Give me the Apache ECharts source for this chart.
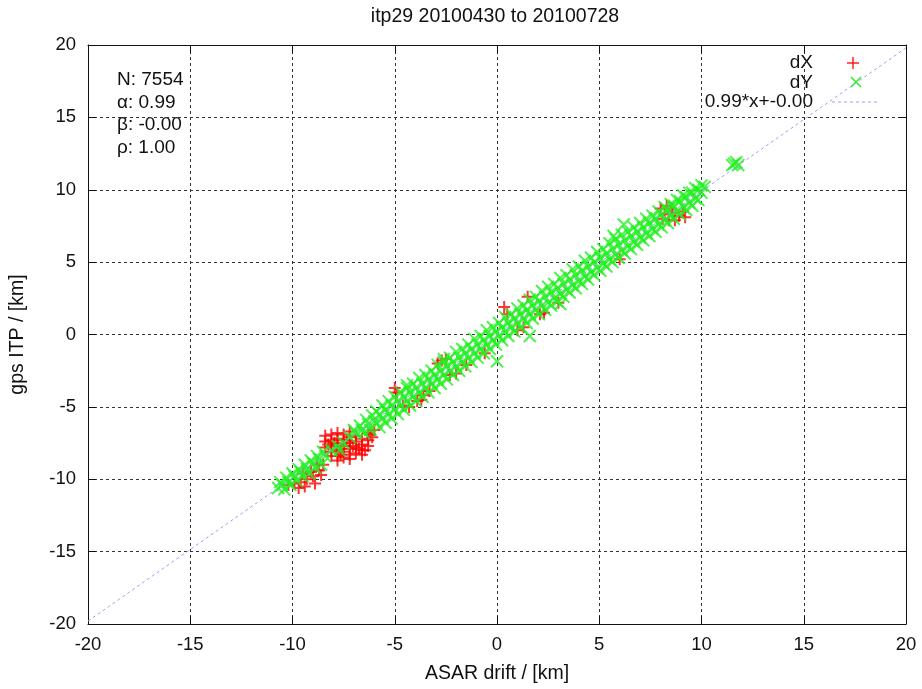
<!DOCTYPE html>
<html>
<head>
<meta charset="utf-8">
<script src="https://cdn.jsdelivr.net/npm/echarts@6/dist/echarts.min.js"></script>
<style>
  html, body { margin: 0; padding: 0; background: #fff; }
  #scatterChart { width: 922px; height: 689px; }
</style>
</head>
<body>
<div id="scatterChart"></div>
<script>
// itp29 drift comparison
const chartTitle = 'itp29 20100430 to 20100728'
const axisTicks = [-20, -15, -10, -5, 0, 5, 10, 15, 20]
const statsLines = ['N: 7554', 'α: 0.99', 'β: -0.00', 'ρ: 1.00']
const fitAlpha = 0.99
const fitBeta = 0.0
const fitLabel = '0.99*x+-0.00'

// dX (red +)
const dX = [
  // lower-left tail
  [-10.2,-10.4],[-9.9,-10.3],[-9.6,-10.2],[-9.3,-10.0],[-9.0,-9.8],[-8.7,-9.4],[-8.9,-10.3],[-9.4,-10.5],[-8.5,-9.0],[-9.7,-10.6],
  [-8.8,-9.0],[-9.1,-9.5],[-9.5,-9.6],[-8.6,-9.7],
  // big red patch near -7.5
  [-8.4,-7.0],[-8.4,-7.4],[-8.4,-7.8],
  [-8.1,-6.9],[-8.1,-7.3],[-8.1,-7.7],[-8.1,-8.1],[-8.1,-8.4],
  [-7.8,-6.8],[-7.8,-7.2],[-7.8,-7.6],[-7.8,-8.0],[-7.8,-8.4],[-7.8,-8.7],
  [-7.5,-6.9],[-7.5,-7.3],[-7.5,-7.7],[-7.5,-8.1],[-7.5,-8.5],
  [-7.2,-6.7],[-7.2,-7.1],[-7.2,-7.5],[-7.2,-7.9],[-7.2,-8.3],[-7.2,-8.6],
  [-6.9,-7.0],[-6.9,-7.4],[-6.9,-7.8],[-6.9,-8.2],
  [-6.6,-7.2],[-6.6,-7.6],[-6.6,-8.0],[-6.6,-8.3],
  [-6.3,-6.8],[-6.3,-7.3],[-6.3,-7.7],
  [-7.95,-7.5],[-7.65,-7.9],[-7.35,-7.3],[-7.05,-7.7],[-6.75,-7.9],[-8.25,-7.6],[-7.65,-8.3],[-6.45,-8.0],
  [-6.2,-6.9],[-6.0,-6.6],[-6.1,-7.1],
  // -5 .. -1.5
  [-5.0,-3.7],[-4.9,-4.0],[-4.6,-4.9],[-4.3,-5.0],[-3.9,-4.6],[-3.6,-4.2],[-3.3,-3.9],[-3.7,-4.5],
  [-2.9,-2.0],[-2.7,-1.8],[-2.5,-1.7],[-2.3,-2.8],[-2.0,-2.7],[-1.5,-2.1],
  // around zero
  [0.35,1.9],[1.5,2.6],[1.3,0.5],[0.5,1.4],[2.3,1.5],[2.1,1.4],[-0.6,-1.3],[1.0,0.3],[3.0,2.2],[6.0,5.2],
  // patch near 8.5
  [8.0,8.7],[8.2,8.3],[8.3,8.9],[8.4,7.9],[8.6,8.4],[8.7,7.9],[8.9,8.2],[9.1,8.5],[9.2,8.1],[8.5,8.7],[8.1,8.0]
]

// dY (green x)
const dY = [
  // lower-left tail
  [-10.6,-10.2],[-10.3,-9.9],[-10.0,-9.6],[-9.7,-9.3],[-9.4,-9.0],[-9.1,-8.7],[-8.8,-8.4],[-8.5,-8.1],
  [-7.0,-6.6],[-6.7,-6.3],[-6.4,-5.9],[-6.1,-5.6],
  [-10.5,-10.4],[-10.2,-10.2],[-9.9,-9.8],[-9.6,-9.5],[-9.3,-9.3],[-9.0,-8.9],[-8.7,-8.6],[-8.4,-8.4],[-8.1,-8.0],[-7.8,-7.7],
  [-7.5,-7.5],[-7.2,-7.1],[-6.9,-6.8],[-6.6,-6.6],[-6.3,-6.2],[-6.0,-6.0],
  [-10.7,-10.6],[-10.4,-10.7],[-10.1,-10.4],[-9.8,-10.1],[-9.5,-9.8],[-9.2,-9.6],[-8.9,-9.2],[-8.6,-9.0],
  [-7.7,-8.0],[-6.5,-6.8],[-6.2,-6.6],
  // main band, upper edge
  [-5.9,-5.3],[-5.6,-4.9],[-5.3,-4.6],[-5.0,-4.3],[-4.7,-4.0],[-4.4,-3.7],[-4.1,-3.4],[-3.8,-3.0],[-3.5,-2.8],[-3.2,-2.5],
  [-2.9,-2.1],[-2.6,-1.9],[-2.3,-1.6],[-2.0,-1.2],[-1.7,-1.0],[-1.4,-0.7],[-1.1,-0.3],[-0.8,-0.1],[-0.5,0.3],[-0.2,0.5],
  [0.1,0.8],[0.4,1.2],[0.7,1.4],[1.0,1.8],[1.3,2.0],[1.6,2.4],[1.9,2.6],[2.2,3.0],[2.5,3.3],[2.8,3.5],
  [3.1,3.9],[3.4,4.1],[3.7,4.5],[4.0,4.7],[4.3,5.1],[4.6,5.3],[4.9,5.7],[5.2,5.9],[5.5,6.3],[5.8,6.6],
  [6.1,6.9],[6.4,7.1],[6.7,7.4],[7.0,7.7],[7.3,8.0],[7.6,8.2],[7.9,8.5],[8.2,8.8],[8.5,9.0],[8.8,9.3],
  [9.1,9.6],[9.4,9.8],[9.7,10.1],[10.0,10.3],
  // main band, upper middle
  [-5.75,-5.5],[-5.45,-5.2],[-5.15,-4.9],[-4.85,-4.6],[-4.55,-4.3],[-4.25,-4.0],[-3.95,-3.7],[-3.65,-3.4],[-3.35,-3.1],[-3.05,-2.8],
  [-2.75,-2.5],[-2.45,-2.2],[-2.15,-1.9],[-1.85,-1.6],[-1.55,-1.3],[-1.25,-1.0],[-0.95,-0.7],[-0.65,-0.4],[-0.35,-0.1],[-0.05,0.2],
  [0.25,0.5],[0.55,0.8],[0.85,1.1],[1.15,1.4],[1.45,1.7],[1.75,2.0],[2.05,2.3],[2.35,2.6],[2.65,2.9],[2.95,3.2],
  [3.25,3.5],[3.55,3.8],[3.85,4.1],[4.15,4.4],[4.45,4.7],[4.75,5.0],[5.05,5.3],[5.35,5.6],[5.65,5.9],[5.95,6.2],
  [6.25,6.5],[6.55,6.8],[6.85,7.1],[7.15,7.4],[7.45,7.7],[7.75,8.0],[8.05,8.3],[8.35,8.6],[8.65,8.9],[8.95,9.2],
  [9.25,9.5],[9.55,9.8],[9.85,10.0],[10.15,10.2],
  // main band, lower middle
  [-5.9,-6.1],[-5.6,-5.8],[-5.3,-5.5],[-5.0,-5.2],[-4.7,-4.9],[-4.4,-4.6],[-4.1,-4.3],[-3.8,-4.0],[-3.5,-3.7],[-3.2,-3.4],
  [-2.9,-3.1],[-2.6,-2.8],[-2.3,-2.5],[-2.0,-2.2],[-1.7,-1.9],[-1.4,-1.6],[-1.1,-1.3],[-0.8,-1.0],[-0.5,-0.7],[-0.2,-0.4],
  [0.1,-0.1],[0.4,0.2],[0.7,0.5],[1.0,0.8],[1.3,1.1],[1.6,1.4],[1.9,1.7],[2.2,2.0],[2.5,2.2],[2.8,2.5],
  [3.1,2.8],[3.4,3.1],[3.7,3.4],[4.0,3.7],[4.3,4.0],[4.6,4.3],[4.9,4.6],[5.2,4.9],[5.5,5.2],[5.8,5.5],
  [6.1,5.8],[6.4,6.1],[6.7,6.4],[7.0,6.7],[7.3,7.0],[7.6,7.3],[7.9,7.6],[8.2,7.9],[8.5,8.2],[8.8,8.5],
  [9.1,8.8],[9.4,9.1],[9.7,9.4],[10.0,9.8],
  // main band, lower edge
  [-5.75,-6.4],[-5.45,-6.1],[-5.15,-5.8],[-4.85,-5.5],[-4.55,-5.2],[-4.25,-4.9],[-3.95,-4.6],[-3.65,-4.3],[-3.35,-4.0],[-3.05,-3.7],
  [-2.75,-3.4],[-2.45,-3.1],[-2.15,-2.8],[-1.85,-2.5],[-1.55,-2.2],[-1.25,-1.9],[-0.95,-1.6],[-0.65,-1.3],[-0.35,-1.0],[-0.05,-0.7],
  [0.25,-0.4],[0.55,-0.1],[0.85,0.2],[1.15,0.5],[1.45,0.8],[1.75,1.1],[2.05,1.4],[2.35,1.7],[2.65,2.0],[2.95,2.3],
  [3.25,2.6],[3.55,2.9],[3.85,3.2],[4.15,3.5],[4.45,3.8],[4.75,4.1],[5.05,4.4],[5.35,4.7],[5.65,5.0],[5.95,5.3],
  [6.25,5.6],[6.55,5.9],[6.85,6.2],[7.15,6.5],[7.45,6.8],[7.75,7.1],[8.05,7.4],[8.35,7.7],[8.65,8.0],[8.95,8.3],
  [9.25,8.6],[9.55,8.9],[9.85,9.3],
  // strays and the far cluster
  [0.0,-1.85],[1.6,-0.1],[3.1,2.1],[6.2,7.6],[5.7,6.8],[-2.6,-1.7],[-4.4,-3.5],
  [11.5,11.7],[11.7,11.9],[11.8,11.7],[11.6,11.8]
]

const fitX = [-20, 20]

const FONT = 'Liberation Sans'
const PLUS = 'path://M5,0L5,10M0,5L10,5'
const CROSS = 'path://M0,0L10,10M10,0L0,10'

let chartDom = document.getElementById('scatterChart')
let scatter_chart = echarts.init(chartDom, null, { renderer: 'canvas' })

let fitLine = fitX.map(x => [x, fitAlpha * x + fitBeta])

let gridLine = { show: true, lineStyle: { color: '#333', width: 1, type: [3, 3] } }
let frameLine = { show: true, onZero: false, lineStyle: { color: '#111', width: 1 } }
let tickStyle = { show: true, inside: true, length: 8, lineStyle: { color: '#111' } }
let labelStyle = { fontFamily: FONT, fontSize: 18.5, color: '#111' }
let nameStyle = { fontFamily: FONT, fontSize: 19.5, color: '#111' }

let options = {
  animation: false,
  backgroundColor: '#fff',
  grid: { left: 87, right: 16, top: 45, bottom: 65 },
  xAxis: [
    {
      type: 'value', min: axisTicks[0], max: axisTicks[axisTicks.length - 1], interval: 5,
      position: 'bottom',
      name: 'ASAR drift / [km]', nameLocation: 'middle', nameGap: 40, nameTextStyle: nameStyle,
      axisLine: frameLine, axisTick: tickStyle, splitLine: gridLine,
      axisLabel: Object.assign({ margin: 11 }, labelStyle)
    },
    {
      type: 'value', min: -20, max: 20, interval: 5, position: 'top',
      axisLine: frameLine, axisTick: tickStyle, splitLine: { show: false }, axisLabel: { show: false }
    }
  ],
  yAxis: [
    {
      type: 'value', min: axisTicks[0], max: axisTicks[axisTicks.length - 1], interval: 5,
      position: 'left',
      name: 'gps ITP / [km]', nameLocation: 'middle', nameGap: 60, nameRotate: 90, nameTextStyle: nameStyle,
      axisLine: frameLine, axisTick: tickStyle, splitLine: gridLine,
      axisLabel: Object.assign({ margin: 12 }, labelStyle)
    },
    {
      type: 'value', min: -20, max: 20, interval: 5, position: 'right',
      axisLine: frameLine, axisTick: tickStyle, splitLine: { show: false }, axisLabel: { show: false }
    }
  ],
  series: [
    {
      name: 'dX', type: 'scatter', data: dX,
      symbol: PLUS, symbolSize: 12,
      itemStyle: { color: 'transparent', borderColor: '#ff0000', borderWidth: 2 }
    },
    {
      name: 'dY', type: 'scatter', data: dY,
      symbol: CROSS, symbolSize: 12,
      itemStyle: { color: 'transparent', borderColor: '#22f022', borderWidth: 2 }
    },
    {
      name: fitLabel, type: 'line', data: fitLine, showSymbol: false,
      lineStyle: { color: '#9f9ff5', width: 1, type: [3, 3] }
    }
  ],
  graphic: [
    {
      type: 'text', x: 495, y: 17,
      style: { text: chartTitle, fontFamily: FONT, fontSize: 19.5, fill: '#111', textAlign: 'center', textVerticalAlign: 'middle' }
    },
    ...statsLines.map((t, i) => ({
      type: 'text', x: 117, y: 80 + i * 22.5,
      style: { text: t, fontFamily: FONT, fontSize: 19, fill: '#111', textAlign: 'left', textVerticalAlign: 'middle' }
    })),
    // legend
    ...['dX', 'dY', fitLabel].map((t, i) => ({
      type: 'text', x: 813, y: 63 + i * 19.5,
      style: { text: t, fontFamily: FONT, fontSize: 19, fill: '#111', textAlign: 'right', textVerticalAlign: 'middle' }
    })),
    { type: 'polyline', shape: { points: [[853, 57], [853, 69]] }, style: { stroke: '#ff0000', lineWidth: 1.3 } },
    { type: 'polyline', shape: { points: [[847, 63], [859, 63]] }, style: { stroke: '#ff0000', lineWidth: 1.3 } },
    { type: 'polyline', shape: { points: [[851, 77], [861, 87]] }, style: { stroke: '#22f022', lineWidth: 1.5 } },
    { type: 'polyline', shape: { points: [[861, 77], [851, 87]] }, style: { stroke: '#22f022', lineWidth: 1.5 } },
    { type: 'polyline', shape: { points: [[832, 102], [877, 102]] }, style: { stroke: '#9f9ff5', lineWidth: 1, lineDash: [3, 3] } }
  ]
}

scatter_chart.setOption(options)
</script>
</body>
</html>
